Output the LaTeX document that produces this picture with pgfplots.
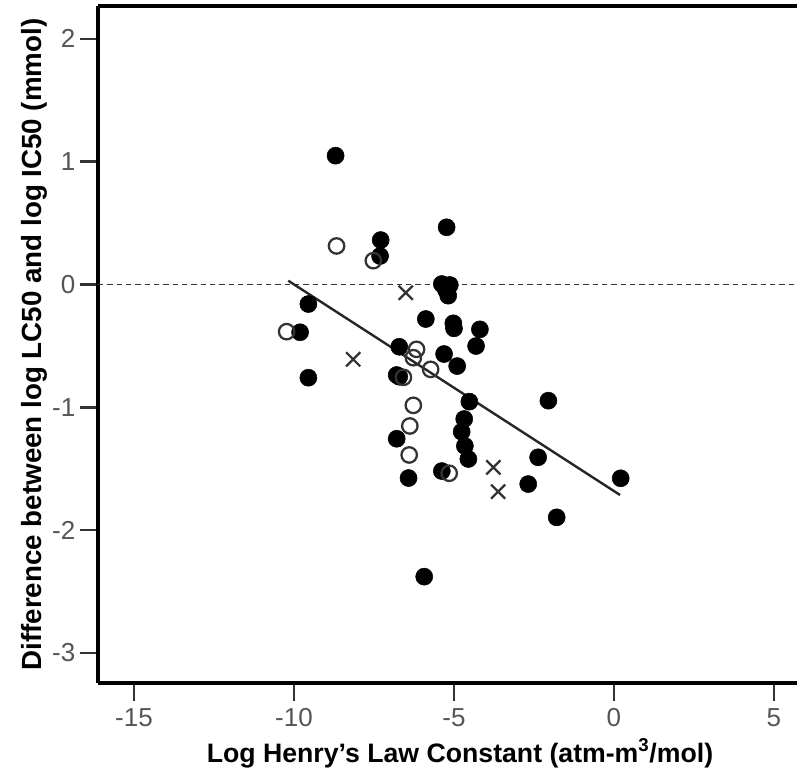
\documentclass[border=0pt]{standalone}
\usepackage{pgfplots}
\pgfplotsset{compat=1.18}
\usepackage{fontspec}
\setmainfont{Liberation Sans}
\definecolor{ticklab}{HTML}{555555}
\begin{document}
\begin{tikzpicture}
\useasboundingbox (-73.5pt,-63.75pt) rectangle (524.25pt,512.25pt);
\begin{axis}[
  scale only axis,
  width=524.25pt, height=507.75pt,
  xmin=-16.125, xmax=5.72,
  ymin=-3.245, ymax=2.268,
  axis x line*=bottom, axis y line*=left,
  axis line style={line width=2.6pt, black, -},
  every outer x axis line/.append style={line width=2.6pt, black, -},
  every outer y axis line/.append style={line width=2.6pt, black, -},
  xtick={-15,-10,-5,0,5}, xticklabels={-15,-10,-5,0,5},
  ytick={-3,-2,-1,0,1,2}, yticklabels={-3,-2,-1,0,1,2},
  tick align=outside,
  major tick length=13.5pt,
  every tick/.style={line width=2pt, black!80},
  tick label style={font=\fontsize{19.5}{21}\selectfont, text=ticklab},
  xticklabel style={anchor=north, yshift=-2pt},
  yticklabel style={anchor=east, xshift=0pt},
  xlabel={Log Henry’s Law Constant (atm-m\textsuperscript{3}/mol)},
  ylabel={Difference between log LC50 and log IC50 (mmol)},
  xlabel style={font=\bfseries\fontsize{20}{22}\selectfont, at={(rel axis cs:0,0)}, anchor=base, xshift=271.5pt, yshift=-59.25pt},
  ylabel style={font=\bfseries\fontsize{20.8}{22}\selectfont, at={(rel axis cs:0,0.5)}, anchor=center, yshift=48pt},
  clip=false,
]
\draw[line width=2.6pt, black] (rel axis cs:0,1) -- (rel axis cs:1,1);
% zero reference line
\addplot[black!80, line width=0.8pt, dash pattern=on 4pt off 3pt] coordinates {(-16.125,0) (5.72,0)};
% regression line
\addplot[black!85, line width=1.8pt] coordinates {(-10.18,0.031) (0.19,-1.714)};
% filled circles
\addplot[only marks, mark=*, mark size=6.4pt, black, mark options={fill=black, draw=black}] coordinates {
(-8.70,1.049) (-5.23,0.466) (-7.29,0.362) (-7.31,0.232)
(-5.38,0.004) (-5.13,-0.004) (-5.25,-0.045) (-5.18,-0.091)
(-9.55,-0.159) (-9.81,-0.389) (-9.55,-0.759) (-5.88,-0.281)
(-5.02,-0.316) (-5.00,-0.357) (-4.19,-0.365) (-4.31,-0.501)
(-6.71,-0.507) (-5.31,-0.566) (-4.90,-0.664) (-6.79,-0.737)
(-6.71,-0.751) (-4.52,-0.954) (-2.05,-0.946) (-4.68,-1.095)
(-4.76,-1.199) (-6.79,-1.256) (-4.66,-1.315) (-4.55,-1.421)
(-2.37,-1.407) (-5.38,-1.519) (-6.42,-1.576) (-2.68,-1.625)
(0.21,-1.578) (-1.79,-1.896) (-5.93,-2.379)
};
% open circles
\addplot[only marks, mark=o, mark size=5.8pt, black!80, mark options={line width=1.7pt}] coordinates {
(-8.67,0.314) (-7.52,0.194) (-10.23,-0.384) (-6.17,-0.528)
(-6.27,-0.596) (-5.73,-0.691) (-6.58,-0.756) (-6.27,-0.984)
(-6.38,-1.152) (-6.40,-1.388) (-5.15,-1.537)
};
% crosses
\addplot[only marks, mark=x, mark size=7.5pt, black!80, mark options={line width=1.7pt}] coordinates {
(-6.51,-0.067) (-8.15,-0.609) (-3.77,-1.489) (-3.62,-1.687)
};
\end{axis}
\end{tikzpicture}
\end{document}
